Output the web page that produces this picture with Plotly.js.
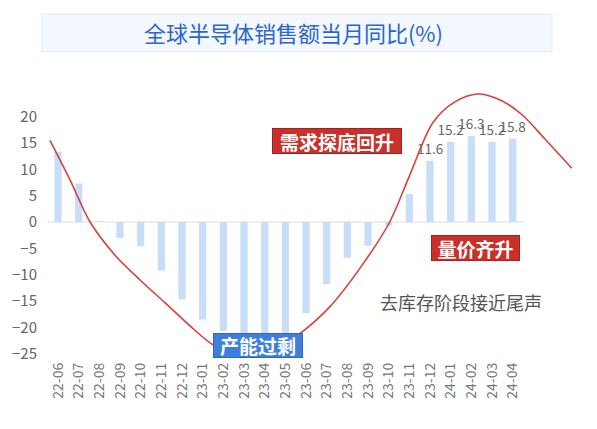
<!DOCTYPE html>
<html>
<head>
<meta charset="utf-8">
<script src="https://cdn.plot.ly/plotly-3.0.1.min.js"></script>
<style>html,body{margin:0;padding:0;background:#fff;}#chart{width:597px;height:429px;}</style>
</head>
<body>
<div id="chart"></div>
<script>
// Data
const categories = ["22-06","22-07","22-08","22-09","22-10","22-11","22-12","23-01","23-02","23-03","23-04","23-05","23-06","23-07","23-08","23-09","23-10","23-11","23-12","24-01","24-02","24-03","24-04"];
const yoyValues = [13.3, 7.3, 0.1, -3.0, -4.6, -9.2, -14.7, -18.5, -20.7, -21.3, -21.6, -21.1, -17.3, -11.8, -6.8, -4.5, -0.7, 5.3, 11.6, 15.2, 16.3, 15.2, 15.8];
const barLabels = ["","","","","","","","","","","","","","","","","","","11.6","15.2","16.3","15.2","15.8"];
// Hand-drawn cycle curve (category index position, value)
const cycleX = [-0.39, 0.58, 1.55, 2.76, 3.97, 5.17, 6.38, 7.50, 8.56, 9.53, 10.49, 11.56, 13.15, 14.75, 16.05, 17.02, 18.13, 19.20, 20.31, 21.37, 22.44, 23.55, 24.86];
const cycleY = [15.5, 8.0, 0, -6.3, -11.0, -15.3, -19.7, -23.3, -24.8, -25.2, -24.2, -21.6, -16.1, -8.0, 0, 8.9, 18.8, 22.8, 24.3, 23.2, 20.4, 15.8, 10.2];
const yTicks = [20, 15, 10, 5, 0, -5, -10, -15, -20, -25];
const titleText = "全球半导体销售额当月同比(%)";
const notes = [
  {text: "需求探底回升", x: 13.49, y: 15.3, w: 130, h: 26, kind: "red"},
  {text: "量价齐升", x: 20.22, y: -4.9, w: 89, h: 26, kind: "red"},
  {text: "产能过剩", x: 9.66, y: -23.45, w: 90, h: 25, kind: "blue"}
];
const remark = {text: "去库存阶段接近尾声", x: 19.5, y: -15.1};

const idx = categories.map((c, i) => i);
const cjk = '"Noto Sans CJK SC", "Noto Sans", sans-serif';

const traces = [
  {
    type: 'bar', x: idx, y: yoyValues, width: 0.35,
    marker: {color: '#c8ddf8'},
    text: barLabels, textposition: 'outside', cliponaxis: false, constraintext: 'none',
    textfont: {family: cjk, size: 13.5, color: '#666'},
    hoverinfo: 'skip'
  },
  {
    type: 'scatter', mode: 'lines', x: cycleX, y: cycleY,
    line: {color: '#d8413a', width: 1.6, shape: 'spline', smoothing: 0.9},
    hoverinfo: 'skip'
  }
];

const annotations = notes.map(n => ({
  x: n.x, y: n.y, xref: 'x', yref: 'y', text: n.text, showarrow: false,
  font: {family: cjk, size: 19, color: '#ffffff', weight: 'bold'},
  bgcolor: n.kind === 'red' ? '#c9302a' : '#3f7fdc',
  bordercolor: n.kind === 'red' ? '#a8201c' : '#2f68c4',
  borderwidth: 1, borderpad: 1,
  width: n.w - 4, height: n.h - 4
}));
annotations.push({
  x: remark.x, y: remark.y, xref: 'x', yref: 'y', text: remark.text, showarrow: false,
  font: {family: cjk, size: 18, color: '#555'}
});

const layout = {
  width: 597, height: 429,
  margin: {l: 45, r: 12, t: 85, b: 70},
  paper_bgcolor: '#fff', plot_bgcolor: '#fff',
  showlegend: false,
  title: {
    text: titleText, x: 0.4916, xanchor: 'center', xref: 'container',
    y: 1 - 34 / 429, yanchor: 'middle', yref: 'container',
    font: {family: cjk, size: 22, color: '#2c66cf'}
  },
  xaxis: {
    range: [-0.63, 25.5], tickmode: 'array', tickvals: idx, ticktext: categories,
    tickangle: -90, tickfont: {family: cjk, size: 14, color: '#777'},
    showgrid: false, zeroline: false, showline: false, ticks: '', fixedrange: true
  },
  yaxis: {
    range: [-26, 26], tickmode: 'array', tickvals: yTicks,
    tickfont: {family: cjk, size: 15, color: '#666'},
    showgrid: false, zeroline: false, showline: false, ticks: '', ticklabelstandoff: 7, fixedrange: true
  },
  shapes: [
    {type: 'rect', xref: 'paper', yref: 'paper', x0: (42 - 45) / 540, x1: (552 - 45) / 540,
     y0: (359 - 51.5) / 274, y1: (359 - 14) / 274, fillcolor: '#f3f7fe', line: {color: '#e0eaf9', width: 1}, layer: 'below'},
    {type: 'line', xref: 'x', yref: 'y', x0: -0.5, x1: categories.length - 0.5, y0: 0, y1: 0,
     line: {color: '#dedede', width: 1}, layer: 'below'}
  ],
  annotations: annotations,
  bargap: 0.5
};

Plotly.newPlot('chart', traces, layout, {displayModeBar: false, staticPlot: true});
</script>
</body>
</html>
